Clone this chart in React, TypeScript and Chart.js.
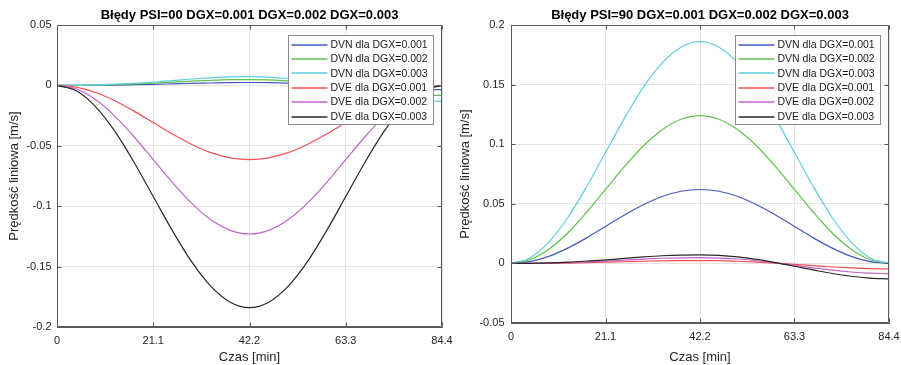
import React, { useEffect, useRef } from 'react';
import { Chart, registerables } from 'chart.js';

Chart.register(...registerables);

const FONT_FAMILY = '"Liberation Sans", Arial, Helvetica, sans-serif';
const TEXT = '#262626';
const AXIS = '#5a5a5a';
const GRID = '#e4e4e4';

// time axis (minutes)
const timeMin = [0, 4.22, 8.44, 12.66, 16.88, 21.1, 25.32, 29.54, 33.76, 37.98, 42.2, 46.42, 50.64, 54.86, 59.08, 63.3, 67.52, 71.74, 75.96, 80.18, 84.4];
const xTickValues = [0, 21.1, 42.2, 63.3, 84.4];
const yTickLeft = [-0.2, -0.15, -0.1, -0.05, 0, 0.05];
const yTickRight = [-0.05, 0, 0.05, 0.1, 0.15, 0.2];

// PSI=00 : DVN (small)
const dvnLeft1 = [0, 0, 0.0001, 0.0003, 0.0006, 0.0009, 0.0013, 0.0017, 0.002, 0.0023, 0.0024, 0.0023, 0.0019, 0.0012, 0.0003, -0.0007, -0.0016, -0.0024, -0.003, -0.0033, -0.0035];
const dvnLeft2 = [0, 0.0001, 0.0003, 0.0007, 0.0012, 0.0018, 0.0027, 0.0035, 0.0042, 0.0047, 0.0048, 0.0045, 0.0037, 0.0022, 0.0004, -0.0016, -0.0036, -0.0055, -0.0069, -0.0079, -0.0083];
const dvnLeft3 = [0, 0.0001, 0.0004, 0.001, 0.0018, 0.0027, 0.004, 0.0053, 0.0063, 0.007, 0.0072, 0.0068, 0.0055, 0.0033, 0.0006, -0.0024, -0.0055, -0.0085, -0.0108, -0.0125, -0.0133];
// PSI=00 : DVE (large, negative)
const dveLeft1 = [0, -0.0015, -0.0059, -0.0127, -0.0213, -0.0308, -0.0403, -0.0489, -0.0557, -0.06, -0.0615, -0.06, -0.0557, -0.0489, -0.0403, -0.0308, -0.0213, -0.0127, -0.0059, -0.0015, 0];
const dveLeft2 = [0, -0.003, -0.0117, -0.0254, -0.0425, -0.0615, -0.0805, -0.0977, -0.1113, -0.12, -0.123, -0.12, -0.1113, -0.0977, -0.0805, -0.0615, -0.0425, -0.0254, -0.0117, -0.003, 0];
const dveLeft3 = [0, -0.0045, -0.0176, -0.0379, -0.0636, -0.092, -0.1204, -0.1461, -0.1664, -0.1795, -0.184, -0.1795, -0.1664, -0.1461, -0.1204, -0.092, -0.0636, -0.0379, -0.0176, -0.0045, 0];

// PSI=90 : DVN (large, positive)
const dvnRight1 = [0, 0.0015, 0.0059, 0.0128, 0.0214, 0.031, 0.0406, 0.0492, 0.0561, 0.0605, 0.062, 0.0605, 0.0561, 0.0492, 0.0406, 0.031, 0.0214, 0.0128, 0.0059, 0.0015, 0];
const dvnRight2 = [0, 0.0031, 0.0119, 0.0255, 0.0429, 0.062, 0.0811, 0.0985, 0.1121, 0.1209, 0.124, 0.1209, 0.1121, 0.0985, 0.0811, 0.062, 0.0429, 0.0255, 0.0119, 0.0031, 0];
const dvnRight3 = [0, 0.0046, 0.0178, 0.0383, 0.0643, 0.093, 0.1217, 0.1477, 0.1682, 0.1814, 0.186, 0.1814, 0.1682, 0.1477, 0.1217, 0.093, 0.0643, 0.0383, 0.0178, 0.0046, 0];
// PSI=90 : DVE (small)
const dveRight1 = [0, 0, 0.0001, 0.0003, 0.0007, 0.001, 0.0014, 0.0018, 0.0021, 0.0023, 0.0024, 0.0023, 0.0018, 0.0011, 0.0002, -0.0008, -0.0019, -0.003, -0.0038, -0.0044, -0.0046];
const dveRight2 = [0, 0.0001, 0.0003, 0.0007, 0.0013, 0.0019, 0.0028, 0.0036, 0.0043, 0.0047, 0.0048, 0.0045, 0.0037, 0.0022, 0.0004, -0.0016, -0.0037, -0.0057, -0.0072, -0.0082, -0.0086];
const dveRight3 = [0, 0.0001, 0.0004, 0.001, 0.002, 0.0029, 0.0042, 0.0054, 0.0064, 0.007, 0.0072, 0.0068, 0.0055, 0.0033, 0.0006, -0.0024, -0.0055, -0.0085, -0.0108, -0.0123, -0.013];

const seriesLabels = ['DVN dla DGX=0.001', 'DVN dla DGX=0.002', 'DVN dla DGX=0.003', 'DVE dla DGX=0.001', 'DVE dla DGX=0.002', 'DVE dla DGX=0.003'];
const seriesColors = ['rgb(70,90,190)', 'rgb(95,195,75)', 'rgb(95,205,225)', 'rgb(245,80,80)', 'rgb(190,100,200)', 'rgb(40,40,40)'];

const titleLeft = 'Błędy PSI=00 DGX=0.001 DGX=0.002 DGX=0.003';
const titleRight = 'Błędy PSI=90 DGX=0.001 DGX=0.002 DGX=0.003';

const decorPlugin = {
  id: 'matlabDecor',
  afterDraw(chart: any, _args: any, opts: any) {
    const { ctx, chartArea: a, scales } = chart;
    ctx.save();
    const L = Math.round(a.left) + 0.5;
    const R = Math.round(a.right) - 0.5;
    const T = Math.round(a.top) + 0.5;
    const B = Math.round(a.bottom) - 0.5;
    ctx.strokeStyle = AXIS;
    ctx.lineWidth = 1;
    ctx.beginPath();
    ctx.rect(L, T, R - L, B - T);
    const tl = 4;
    for (const v of xTickValues) {
      const px = Math.round(scales.x.getPixelForValue(v)) + 0.5;
      ctx.moveTo(px, B); ctx.lineTo(px, B - tl);
      ctx.moveTo(px, T); ctx.lineTo(px, T + tl);
    }
    for (const v of opts.yTicks) {
      const py = Math.round(scales.y.getPixelForValue(v)) + 0.5;
      ctx.moveTo(L, py); ctx.lineTo(L + tl, py);
      ctx.moveTo(R, py); ctx.lineTo(R - tl, py);
    }
    ctx.stroke();

    // title
    ctx.fillStyle = '#000';
    ctx.font = `bold 13px ${FONT_FAMILY}`;
    ctx.textAlign = 'center';
    ctx.textBaseline = 'middle';
    ctx.fillText(opts.title, (a.left + a.right) / 2, 15);

    // legend
    const bw = 145;
    const bh = 89;
    const bx = Math.round(a.right - 9 - bw) + 0.5;
    const by = Math.round(a.top + 10) + 0.5;
    ctx.fillStyle = '#fff';
    ctx.fillRect(bx, by, bw, bh);
    ctx.strokeStyle = '#8c8c8c';
    ctx.lineWidth = 1;
    ctx.strokeRect(bx, by, bw, bh);
    ctx.font = `10.5px ${FONT_FAMILY}`;
    ctx.textAlign = 'left';
    ctx.textBaseline = 'middle';
    for (let i = 0; i < seriesLabels.length; i++) {
      const cy = by + 9 + i * 14.4;
      const ly = Math.round(cy);
      ctx.beginPath();
      ctx.strokeStyle = seriesColors[i];
      ctx.lineWidth = 1.6;
      ctx.moveTo(bx + 3, ly);
      ctx.lineTo(bx + 39, ly);
      ctx.stroke();
      ctx.fillStyle = '#1a1a1a';
      ctx.fillText(seriesLabels[i], bx + 42, cy + 0.5);
    }
    ctx.restore();
  },
};

type Area = { left: number; right: number; top: number; bottom: number };

function Plot(props: {
  left: number; width: number; height: number; area: Area; title: string;
  yTicks: number[]; series: number[][]; yTitlePad: number; yTickPad: number;
}) {
  const ref = useRef<HTMLCanvasElement>(null);
  useEffect(() => {
    const { width, height, area, yTicks, series, title, yTitlePad, yTickPad } = props;
    const datasets = series.map((vals, i) => ({
      label: seriesLabels[i],
      data: timeMin.map((t, k) => ({ x: t, y: vals[k] })),
      borderColor: seriesColors[i],
      backgroundColor: seriesColors[i],
      borderWidth: 1.2,
      pointRadius: 0,
      fill: false,
      cubicInterpolationMode: 'monotone' as const,
      order: series.length - i,
    }));
    const chart = new Chart(ref.current as HTMLCanvasElement, {
      type: 'line',
      data: { datasets },
      plugins: [decorPlugin],
      options: {
        animation: false,
        responsive: false,
        devicePixelRatio: 1,
        events: [],
        layout: { padding: { top: area.top, right: width - area.right, left: 0, bottom: 0 } },
        plugins: {
          legend: { display: false },
          title: { display: false },
          tooltip: { enabled: false },
          matlabDecor: { title, yTicks },
        } as any,
        scales: {
          x: {
            type: 'linear',
            min: 0,
            max: 84.4,
            afterBuildTicks: (s: any) => { s.ticks = xTickValues.map((v) => ({ value: v })); },
            afterFit: (s: any) => { s.height = height - area.bottom; s.paddingLeft = 0; s.paddingRight = 0; },
            ticks: {
              font: { family: FONT_FAMILY, size: 11 },
              color: TEXT,
              padding: 7,
              maxRotation: 0,
              autoSkip: false,
              callback: (v: any) => String(v),
            },
            grid: { color: GRID, drawTicks: false },
            border: { display: true, color: AXIS },
            title: {
              display: true,
              text: 'Czas [min]',
              color: TEXT,
              font: { family: FONT_FAMILY, size: 13 },
              padding: { top: 0, bottom: 0 },
            },
          },
          y: {
            type: 'linear',
            min: yTicks[0],
            max: yTicks[yTicks.length - 1],
            afterBuildTicks: (s: any) => { s.ticks = yTicks.map((v) => ({ value: v })); },
            afterFit: (s: any) => { s.width = area.left; s.paddingTop = 0; s.paddingBottom = 0; },
            ticks: {
              font: { family: FONT_FAMILY, size: 11 },
              color: TEXT,
              padding: yTickPad,
              autoSkip: false,
              callback: (v: any) => String(Number(Number(v).toFixed(2))),
            },
            grid: { color: GRID, drawTicks: false },
            border: { display: true, color: AXIS },
            title: {
              display: true,
              text: 'Prędkość liniowa [m/s]',
              color: TEXT,
              font: { family: FONT_FAMILY, size: 13 },
              padding: { top: yTitlePad, bottom: 0 },
            },
          },
        },
      },
    });
    return () => chart.destroy();
  }, []);
  return (
    <canvas
      ref={ref}
      width={props.width}
      height={props.height}
      style={{ position: 'absolute', left: props.left, top: 0, width: props.width, height: props.height }}
    />
  );
}

export default function App() {
  return (
    <div style={{ position: 'fixed', left: 0, top: 0, width: 901, height: 365, background: '#fff', overflow: 'hidden' }}>
      <Plot
        left={0}
        width={460}
        height={365}
        area={{ left: 57, right: 442, top: 25, bottom: 327 }}
        title={titleLeft}
        yTicks={yTickLeft}
        series={[dvnLeft1, dvnLeft2, dvnLeft3, dveLeft1, dveLeft2, dveLeft3]}
        yTitlePad={7}
        yTickPad={5.5}
      />
      <Plot
        left={450}
        width={451}
        height={365}
        area={{ left: 61, right: 439, top: 25, bottom: 323 }}
        title={titleRight}
        yTicks={yTickRight}
        series={[dvnRight1, dvnRight2, dvnRight3, dveRight1, dveRight2, dveRight3]}
        yTitlePad={8}
        yTickPad={6.5}
      />
    </div>
  );
}
